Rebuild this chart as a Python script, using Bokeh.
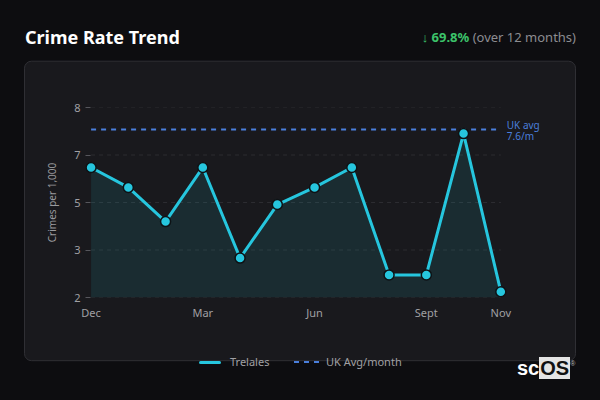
from urllib.parse import quote
from bokeh.plotting import figure
from bokeh.layouts import column
from bokeh.embed import file_html
from bokeh.resources import INLINE
from bokeh.models import (ColumnDataSource, Range1d, FixedTicker, NumeralTickFormatter,
                          Label, Div)

# datos del grafico
months = ["Dec", "Jan", "Feb", "Mar", "Apr", "May", "Jun", "Jul", "Aug", "Sept", "Oct", "Nov"]
rates = [6.29, 5.60, 4.42, 6.29, 3.16, 5.01, 5.60, 6.29, 2.58, 2.58, 7.46, 2.00]
uk_avg = 7.6
y_ticks = [1.8, 3.44, 5.08, 6.72, 8.36]
x_tick_months = ["Dec", "Mar", "Jun", "Sept", "Nov"]
change_pct = 69.8
series_name = "Trelales"
avg_name = "UK Avg/month"

# colores
PAGE = "#0d0d10"
CARD = "#19191d"
CYAN = "#26c6de"
BLUE = "#4a7fdc"
GREY = "#a0a0a4"
FONT = "Noto Sans"

n = len(months)
x_pad = 0.15      # espacio a la izquierda para el primer punto
x_room = 1.2      # espacio a la derecha para la etiqueta de la media

source = ColumnDataSource(dict(
    x=list(range(n)),
    y=rates,
    base=[y_ticks[0]] * n,
    uk=[uk_avg] * n,
))
grid_src = ColumnDataSource(dict(
    y=y_ticks,
    x0=[0] * len(y_ticks),
    x1=[n - 1] * len(y_ticks),
))

# cabecera
header = Div(width=600, height=58, margin=0, text=f"""
<div style="position:relative;width:600px;height:58px;font-family:'{FONT}';">
  <div style="position:absolute;left:25px;top:26px;font-size:18px;line-height:22px;
              font-weight:bold;color:#ffffff;white-space:nowrap;">Crime Rate Trend</div>
  <div style="position:absolute;right:24px;top:28px;font-size:13px;line-height:18px;
              color:#8c8c90;white-space:nowrap;"><span style="color:#3cc36a;font-weight:bold;">&darr; {change_pct}%</span> (over 12 months)</div>
</div>""")

# tarjeta de fondo (imagen css detras del lienzo transparente)
card_svg = ("<svg xmlns='http://www.w3.org/2000/svg' width='600' height='312'>"
            f"<rect x='24.5' y='3.2' width='551' height='299.5' rx='7' fill='{CARD}' "
            "stroke='#2f2f34' stroke-width='1'/></svg>")
card_bg = 'url("data:image/svg+xml,' + quote(card_svg) + '") no-repeat 0 0'

p = figure(width=600, height=312,
           x_range=Range1d(-x_pad, n - 1 + x_room),
           y_range=Range1d(y_ticks[0], y_ticks[-1]),
           output_backend="svg", toolbar_location=None,
           min_border_left=85, min_border_right=55,
           min_border_top=49, min_border_bottom=73,
           styles={"background": card_bg})
p.border_fill_alpha = 0
p.background_fill_alpha = 0
p.outline_line_color = None
p.grid.grid_line_color = None

# rejilla, area, linea media y serie
p.segment(x0="x0", x1="x1", y0="y", y1="y", source=grid_src,
          line_color="#2c2c31", line_width=1, line_dash="4 4")
p.varea(x="x", y1="base", y2="y", source=source, fill_color=CYAN, fill_alpha=0.11)
p.line(x="x", y="uk", source=source, line_color=BLUE, line_width=2, line_dash="5 5")
p.line(x="x", y="y", source=source, line_color=CYAN, line_width=3)
p.scatter(x="x", y="y", source=source, size=10, fill_color=CYAN,
          line_color="#0e1215", line_width=1.5)

# ejes
p.yaxis.ticker = FixedTicker(ticks=y_ticks)
p.yaxis.formatter = NumeralTickFormatter(format="0")
p.yaxis.axis_line_color = None
p.yaxis.major_tick_line_color = "#56565c"
p.yaxis.major_tick_out = 0
p.yaxis.major_tick_in = 5
p.yaxis.minor_tick_line_color = None
p.yaxis.major_label_standoff = 5
p.yaxis.major_label_text_color = GREY
p.yaxis.major_label_text_font = FONT
p.yaxis.major_label_text_font_size = "11px"
p.yaxis.axis_label = "Crimes per 1,000"
p.yaxis.axis_label_text_font = FONT
p.yaxis.axis_label_text_font_size = "10px"
p.yaxis.axis_label_text_font_style = "normal"
p.yaxis.axis_label_text_color = "#9a9a9e"
p.yaxis.axis_label_standoff = 12

x_idx = [months.index(m) for m in x_tick_months]
p.xaxis.ticker = FixedTicker(ticks=x_idx)
p.xaxis.major_label_overrides = {i: months[i] for i in x_idx}
p.xaxis.axis_line_color = None
p.xaxis.major_tick_line_color = None
p.xaxis.major_tick_out = 0
p.xaxis.major_tick_in = 0
p.xaxis.minor_tick_line_color = None
p.xaxis.major_label_standoff = 7
p.xaxis.major_label_text_color = GREY
p.xaxis.major_label_text_font = FONT
p.xaxis.major_label_text_font_size = "11px"

# etiqueta de la media
p.add_layout(Label(x=n - 1, y=uk_avg, x_offset=6, y_offset=5, text="UK avg",
                   text_font=FONT, text_font_size="10px", text_color=BLUE,
                   text_baseline="middle"))
p.add_layout(Label(x=n - 1, y=uk_avg, x_offset=6, y_offset=-6, text=f"{uk_avg}/m",
                   text_font=FONT, text_font_size="10px", text_color=BLUE,
                   text_baseline="middle"))

# pie: leyenda y logo
footer = Div(width=600, height=60, margin=(-30, 0, 0, 0), text=f"""
<div style="position:relative;width:600px;height:60px;font-family:'{FONT}';font-size:11px;
            line-height:16px;color:{GREY};">
  <span style="position:absolute;left:199px;top:21px;width:22px;height:3px;
               border-radius:2px;background:{CYAN};"></span>
  <span style="position:absolute;left:230px;top:14px;white-space:nowrap;">{series_name}</span>
  <span style="position:absolute;left:294px;top:21px;width:25px;height:2px;
               background:repeating-linear-gradient(90deg,{BLUE} 0 5px,transparent 5px 10px);"></span>
  <span style="position:absolute;left:326px;top:14px;white-space:nowrap;">{avg_name}</span>
  <div style="position:absolute;left:517px;top:18px;font-family:'Liberation Sans';
              font-weight:bold;font-size:20px;line-height:20px;color:#ffffff;white-space:nowrap;">sc<span
       style="background:#e4e4e4;color:#111111;padding:0 1px;">OS</span><span
       style="position:relative;top:-9px;font-size:7px;font-weight:normal;color:#bbbbbb;">&reg;</span></div>
</div>""")

layout = column(header, p, footer, spacing=0, margin=0)

html = file_html(layout, INLINE, title="Crime Rate Trend")
html = html.replace("</head>", "<style>html,body{background:%s;}</style></head>" % PAGE, 1)
open("out.html", "w").write(html)
